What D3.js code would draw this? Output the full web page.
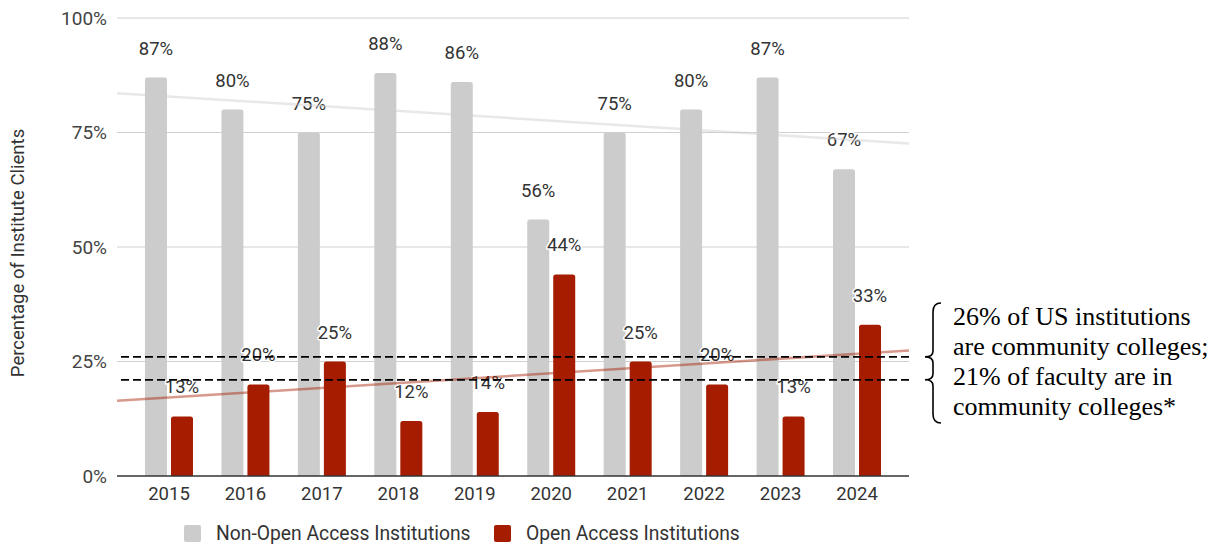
<!DOCTYPE html>
<html>
<head>
<meta charset="utf-8">
<script src="https://cdn.jsdelivr.net/npm/d3@7"></script>
<style>
  html, body { margin: 0; padding: 0; background: #fff; }
  svg { display: block; }
</style>
</head>
<body>
<svg id="chart" width="1226" height="546"></svg>
<script>
// Share of institute clients by year, split by institution type
const years = ["2015", "2016", "2017", "2018", "2019", "2020", "2021", "2022", "2023", "2024"];
const nonOpenAccess = [87, 80, 75, 88, 86, 56, 75, 80, 87, 67];
const openAccess = [13, 20, 25, 12, 14, 44, 25, 20, 13, 33];
const seriesNames = ["Non-Open Access Institutions", "Open Access Institutions"];
const seriesColors = ["#cccccc", "#a61c00"];
const yTicks = [0, 25, 50, 75, 100];
// Reference levels: share of US institutions / faculty at community colleges
const referenceLevels = [26, 21];
const noteLines = ["26% of US institutions", "are community colleges;", "21% of faculty are in", "community colleges*"];

const svg = d3.select("#chart");
const plotLeft = 117, plotRight = 909, plotTop = 18, plotBottom = 476;
const sansFont = "Roboto, 'Liberation Sans', Arial, sans-serif";

const y = d3.scaleLinear().domain([0, 100]).range([plotBottom, plotTop]);
const x = d3.scaleBand().domain(years).range([plotLeft, plotRight]).paddingInner(0).paddingOuter(0.18);
const x1 = d3.scaleBand().domain(seriesNames).range([0, x.bandwidth()]).paddingInner(0.154).paddingOuter(0.547);

const rows = years.map((yr, i) => ({ year: yr, values: [nonOpenAccess[i], openAccess[i]] }));

// Horizontal gridlines
svg.append("g").selectAll("line").data(yTicks.filter(t => t > 0)).join("line")
  .attr("x1", plotLeft).attr("x2", plotRight)
  .attr("y1", d => y(d)).attr("y2", d => y(d))
  .attr("stroke", "#d0d0d0").attr("stroke-width", 1.2);

// Y tick labels
svg.append("g").selectAll("text").data(yTicks).join("text")
  .attr("x", 107).attr("y", d => y(d)).attr("dy", "0.35em")
  .attr("text-anchor", "end")
  .attr("font-family", sansFont).attr("font-size", 19).attr("fill", "#444")
  .text(d => d + "%");

// Y axis title
svg.append("text")
  .attr("transform", `translate(24,${(plotTop + plotBottom) / 2 + 6}) rotate(-90)`)
  .attr("text-anchor", "middle")
  .attr("font-family", sansFont).attr("font-size", 18.5).attr("fill", "#333")
  .text("Percentage of Institute Clients");

// Bars with rounded top corners
function barPath(x0, w, yTop, yBase, r) {
  r = Math.min(r, w / 2, yBase - yTop);
  return `M${x0},${yBase}V${yTop + r}Q${x0},${yTop} ${x0 + r},${yTop}H${x0 + w - r}Q${x0 + w},${yTop} ${x0 + w},${yTop + r}V${yBase}Z`;
}
const groups = svg.append("g").selectAll("g").data(rows).join("g")
  .attr("transform", d => `translate(${x(d.year)},0)`);
groups.selectAll("path").data(d => d.values.map((v, k) => ({ v, k }))).join("path")
  .attr("d", d => barPath(x1(seriesNames[d.k]), x1.bandwidth(), y(d.v), y(0), 2.5))
  .attr("fill", d => seriesColors[d.k]);

// Linear trend lines (least squares over year index)
function trend(values) {
  const n = values.length, xs = d3.range(n);
  const mx = d3.mean(xs), my = d3.mean(values);
  const sxy = d3.sum(xs, (xi, i) => (xi - mx) * (values[i] - my));
  const sxx = d3.sum(xs, xi => (xi - mx) ** 2);
  const slope = sxy / sxx;
  return t => my + slope * (t - mx);
}
const firstCenter = x(years[0]) + x.bandwidth() / 2;
const idxAt = px => (px - firstCenter) / x.step();
[[nonOpenAccess, 0], [openAccess, 1]].forEach(([vals, k]) => {
  const f = trend(vals);
  svg.append("line")
    .attr("x1", plotLeft).attr("y1", y(f(idxAt(plotLeft))))
    .attr("x2", plotRight).attr("y2", y(f(idxAt(plotRight))))
    .attr("stroke", seriesColors[k]).attr("stroke-opacity", 0.45)
    .attr("stroke-width", 2.5);
});

// Baseline
svg.append("line")
  .attr("x1", plotLeft).attr("x2", plotRight).attr("y1", y(0)).attr("y2", y(0))
  .attr("stroke", "#333").attr("stroke-width", 1.5);

// X tick labels
svg.append("g").selectAll("text").data(years).join("text")
  .attr("x", d => x(d) + x.bandwidth() / 2).attr("y", 500)
  .attr("text-anchor", "middle")
  .attr("font-family", sansFont).attr("font-size", 18.5).attr("fill", "#333")
  .text(d => d);

// Dashed reference levels
svg.append("g").selectAll("line").data(referenceLevels).join("line")
  .attr("x1", plotLeft + 4).attr("x2", plotRight)
  .attr("y1", d => y(d)).attr("y2", d => y(d))
  .attr("stroke", "#000").attr("stroke-width", 1.8)
  .attr("stroke-dasharray", "8,4");

// Value labels with white halo
groups.selectAll("text").data(d => d.values.map((v, k) => ({ v, k }))).join("text")
  .attr("x", d => x1(seriesNames[d.k]) + x1.bandwidth() / 2)
  .attr("y", d => y(d.v) - 23)
  .attr("text-anchor", "middle")
  .attr("font-family", sansFont).attr("font-size", 18.5)
  .attr("fill", "#333")
  .attr("stroke", "#fff").attr("stroke-width", 3).attr("paint-order", "stroke")
  .attr("stroke-linejoin", "round")
  .text(d => d.v + "%");

// Brace pointing at the two reference levels
const yA = y(referenceLevels[0]), yB = y(referenceLevels[1]);
const bx = 933, tip = 925, braceTop = 303, braceBot = 423;
svg.append("path")
  .attr("d", `M${bx + 8},${braceTop} Q${bx},${braceTop} ${bx},${braceTop + 9}
    L${bx},${yA - 6} Q${bx},${yA} ${tip},${yA} Q${bx},${yA} ${bx},${yA + 6}
    L${bx},${yB - 6} Q${bx},${yB} ${tip},${yB} Q${bx},${yB} ${bx},${yB + 6}
    L${bx},${braceBot - 9} Q${bx},${braceBot} ${bx + 8},${braceBot}`)
  .attr("fill", "none").attr("stroke", "#000").attr("stroke-width", 1.6);

// Note text
svg.append("g").selectAll("text").data(noteLines).join("text")
  .attr("x", 953).attr("y", (d, i) => 325 + i * 30)
  .attr("font-family", "'Liberation Serif', 'Times New Roman', serif")
  .attr("font-size", 26).attr("fill", "#000")
  .text(d => d);

// Legend
const legend = svg.append("g").selectAll("g").data(seriesNames).join("g")
  .attr("transform", (d, i) => `translate(${[184, 494][i]},525)`);
legend.append("rect").attr("width", 17).attr("height", 17).attr("rx", 2)
  .attr("fill", (d, i) => seriesColors[i]);
legend.append("text").attr("x", 32).attr("y", 8.5).attr("dy", "0.35em")
  .attr("font-family", sansFont).attr("font-size", 19.3).attr("fill", "#333")
  .text(d => d);
</script>
</body>
</html>
